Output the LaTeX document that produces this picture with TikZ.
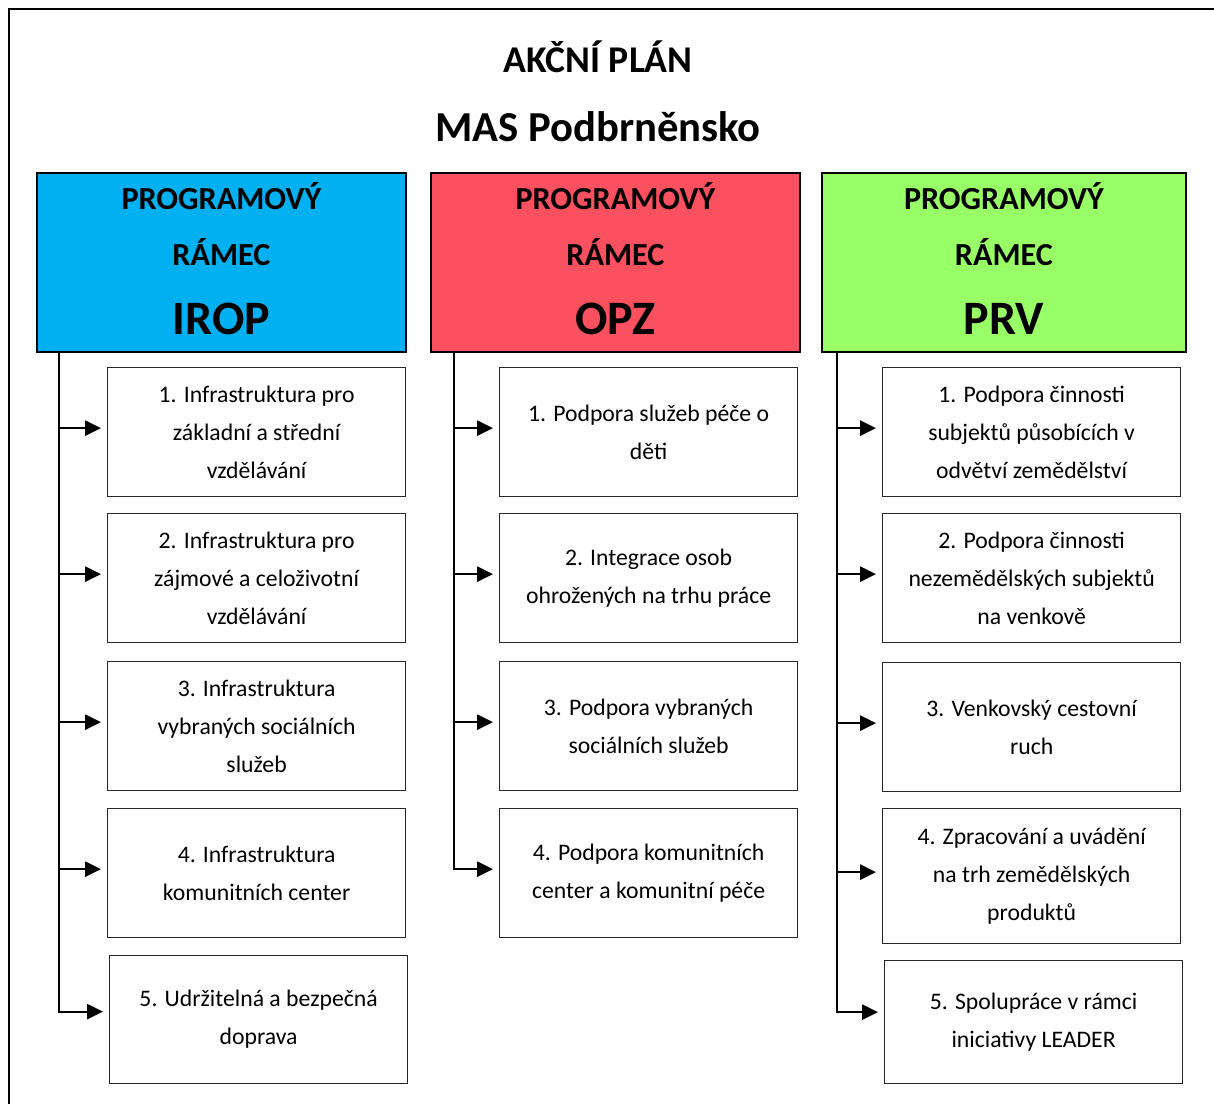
\documentclass[tikz,border=0pt]{standalone}
\usepackage{fontspec}
\setmainfont{Carlito}
\usetikzlibrary{arrows.meta, positioning, calc}
\definecolor{iropblue}{HTML}{00B0F0}
\definecolor{opzred}{HTML}{FB505F}
\definecolor{prvgreen}{HTML}{99FF66}

\begin{document}
\begin{tikzpicture}[x=0.02cm, y=-0.02cm,
	>={Triangle[length=9pt, width=8.5pt]},
	head/.style={draw, line width=1.1pt, minimum width=7.38cm, minimum height=3.58cm, anchor=north west},
	headtxt/.style={font=\fontsize{18.3}{18.3}\selectfont\bfseries},
	headbig/.style={font=\fontsize{27.3}{27.3}\selectfont\bfseries},
	item/.style={draw=black!85, line width=0.75pt, minimum width=5.96cm, minimum height=2.58cm,
		anchor=north west, align=center, inner sep=1pt, font=\fontsize{13.5}{21.6}\selectfont},
	arr/.style={->, line width=1.3pt, shorten >=3.4pt}]
	\useasboundingbox (0,0) rectangle (1214,1104);
	\draw[line width=1.2pt] (9,1110) -- (9,9) -- (1220,9);
	\node[font=\fontsize{21.5}{21.5}\selectfont\bfseries] (plan) at (598,57) {AKČNÍ PLÁN};
	\node[font=\fontsize{24.3}{24.3}\selectfont\bfseries] (mas) at (598,127) {MAS Podbrněnsko};
	
	\foreach \h/\x/\c/\w/\t in {irop/36/iropblue/7.38cm/IROP, opz/430/opzred/7.38cm/OPZ, prv/821/prvgreen/7.28cm/PRV} {
		\node[head, fill=\c, minimum width=\w] (\h) at (\x,172) {};
		\node[headtxt] (\h-a) at ($(\h.north)+(0,24)$) {PROGRAMOVÝ};
		\node[headtxt] (\h-b) at ($(\h.north)+(0,80)$) {RÁMEC};
		\node[headbig] (\h-c) at ($(\h.north)+(0,147)$) {\t};
	}
	
	\foreach \n/\y/\t in {1/367/{1. Infrastruktura pro\\základní a střední\\vzdělávání},
		2/513/{2. Infrastruktura pro\\zájmové a celoživotní\\vzdělávání},
		3/661/{3. Infrastruktura\\vybraných sociálních\\služeb},
		4/808/{4. Infrastruktura\\komunitních center}}
	\node[item] (irop\n) at (107,\y) {\t};
	\node[item, minimum height=2.56cm] (irop5) at (109,955) {5. Udržitelná a bezpečná\\doprava};
	
	\foreach \n/\y/\t in {1/367/{1. Podpora služeb péče o\\děti},
		2/513/{2. Integrace osob\\ohrožených na trhu práce},
		3/661/{3. Podpora vybraných\\sociálních služeb},
		4/808/{4. Podpora komunitních\\center a komunitní péče}}
	\node[item] (opz\n) at (499,\y) {\t};
	
	\foreach \n/\y/\t in {1/367/{1. Podpora činnosti\\subjektů působících v\\odvětví zemědělství},
		2/513/{2. Podpora činnosti\\nezemědělských subjektů\\na venkově},
		3/662/{3. Venkovský cestovní\\ruch}}
	\node[item] (prv\n) at (882,\y) {\t};
	\node[item, minimum height=2.7cm] (prv4) at (882,808) {4. Zpracování a uvádění\\na trh zemědělských\\produktů};
	\node[item, minimum height=2.46cm] (prv5) at (884,960) {5. Spolupráce v rámci\\iniciativy LEADER};
	
	\coordinate (irop-sp) at ($(irop.south west)+(23,0)$);
	\coordinate (opz-sp) at ($(opz.south west)+(24,0)$);
	\coordinate (prv-sp) at ($(prv.south west)+(16,0)$);
	\draw[arr] (irop-sp) |- ($(irop5.west)+(0,-8)$);
	\foreach \n in {1,...,4} \draw[arr] ($(irop-sp |- irop\n.west)+(0,-4)$) -- ($(irop\n.west)+(0,-4)$);
	\draw[arr] (opz-sp) |- ($(opz4.west)+(0,-4)$);
	\foreach \n in {1,...,3} \draw[arr] ($(opz-sp |- opz\n.west)+(0,-4)$) -- ($(opz\n.west)+(0,-4)$);
	\draw[arr] (prv-sp) |- ($(prv5.west)+(0,-10)$);
	\foreach \n in {1,...,4} \draw[arr] ($(prv-sp |- prv\n.west)+(0,-4)$) -- ($(prv\n.west)+(0,-4)$);
\end{tikzpicture}
\end{document}
